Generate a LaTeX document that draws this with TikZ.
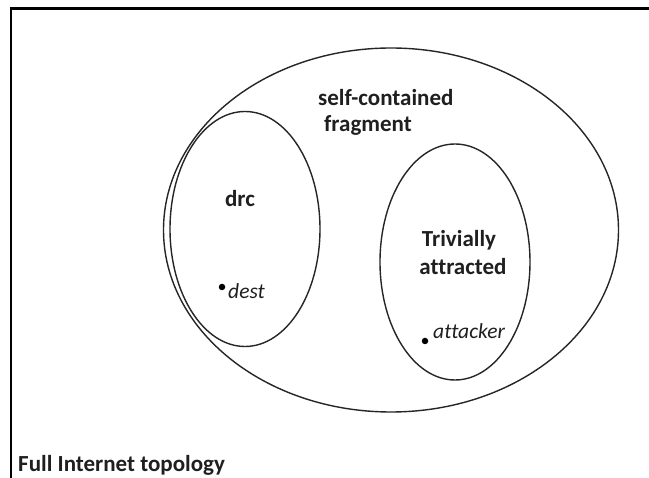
\documentclass[tikz,border=0pt]{standalone}
\usepackage{fontspec}
\setmainfont{Carlito}[Ligatures=NoCommon]
\usetikzlibrary{shapes.geometric}
\begin{document}
\begin{tikzpicture}[x=1pt,y=-1pt,
  region/.style={draw=black!85,line width=1.4pt,ellipse,inner sep=0pt},
  lbl/.style={font=\fontsize{23}{25}\selectfont\bfseries,text=black!88,inner sep=0pt},
  elbl/.style={font=\fontsize{21.5}{24}\selectfont\itshape,text=black!88,inner sep=0pt,anchor=base west},
  dot/.style={circle,fill=black,inner sep=0pt,minimum size=6.5pt}]
  \useasboundingbox (0,0) rectangle (649,478);
  % white page, reaching a little past the picture's edges
  \fill[white] (-10,-10) rectangle (665,495);
  % frame of the whole topology: top and left edges
  \draw[line width=3pt] (10,9) -- (665,9);
  \draw[line width=2pt] (11,9) -- (11,495);
  % regions
  \node[region,minimum width=455pt,minimum height=364pt] (frag) at (391,230) {};
  \node[region,minimum width=150pt,minimum height=235pt] (drc) at (245,229) {};
  \node[region,minimum width=150pt,minimum height=236pt] (triv) at (455,262) {};
  % labels
  \node[lbl,anchor=base west] (fragl1) at (318,106) {self-contained};
  \node[lbl,anchor=base west] (fragl2) at (324,132) {fragment};
  \node[lbl,anchor=base] (drcl) at (240,207) {drc};
  \node[lbl,anchor=base] (trivl1) at (459,247) {Trivially};
  \node[lbl,anchor=base] (trivl2) at (463,275) {attracted};
  \node[lbl,anchor=base west] (full) at (18,472) {Full Internet topology};
  % nodes inside the regions
  \node[dot] (destdot) at (222,287) {};
  \node[elbl] (dest) at (228,299) {dest};
  \node[dot] (attdot) at (425,341) {};
  \node[elbl] (att) at (433,339) {attacker};
\end{tikzpicture}
\end{document}
